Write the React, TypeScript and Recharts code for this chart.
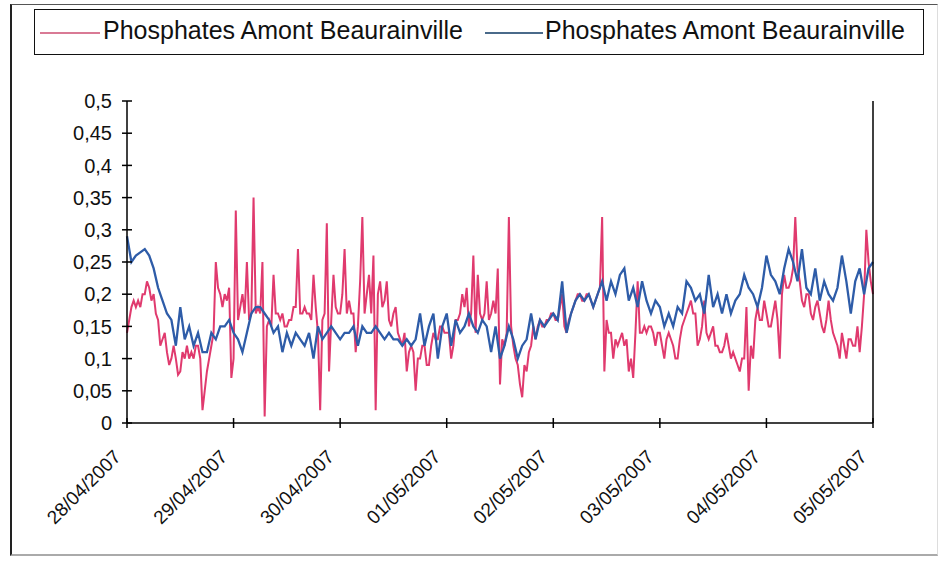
import React from "react";
import { LineChart, Line, XAxis, YAxis } from "recharts";

// Phosphate readings, pink series sampled every half hour from 28/04/2007 00:00
const pinkValues: number[] = [
  // 28/04
  0.14, 0.16, 0.18, 0.19, 0.18, 0.19, 0.18, 0.2, 0.2, 0.22, 0.21, 0.19,
  0.2, 0.17, 0.16, 0.12, 0.13, 0.14, 0.11, 0.09, 0.1, 0.12, 0.1, 0.075,
  0.08, 0.11, 0.1, 0.12, 0.1, 0.11, 0.1, 0.12, 0.12, 0.1, 0.02, 0.05,
  0.08, 0.1, 0.12, 0.14, 0.25, 0.21, 0.2, 0.18, 0.2, 0.19, 0.21, 0.07,
  // 29/04
  0.1, 0.33, 0.16, 0.18, 0.2, 0.17, 0.25, 0.16, 0.17, 0.35, 0.17, 0.18,
  0.17, 0.25, 0.01, 0.15, 0.16, 0.15, 0.23, 0.17, 0.17, 0.16, 0.17, 0.15,
  0.15, 0.16, 0.16, 0.18, 0.18, 0.27, 0.17, 0.17, 0.18, 0.17, 0.17, 0.16,
  0.23, 0.18, 0.14, 0.02, 0.16, 0.17, 0.31, 0.08, 0.16, 0.23, 0.18, 0.17,
  // 30/04
  0.17, 0.2, 0.27, 0.17, 0.19, 0.17, 0.17, 0.11, 0.15, 0.22, 0.32, 0.17,
  0.2, 0.23, 0.17, 0.26, 0.02, 0.2, 0.22, 0.18, 0.19, 0.22, 0.16, 0.15,
  0.17, 0.18, 0.14, 0.13, 0.12, 0.14, 0.08, 0.11, 0.12, 0.11, 0.05, 0.1,
  0.1, 0.12, 0.12, 0.09, 0.09, 0.12, 0.14, 0.13, 0.13, 0.15, 0.15, 0.14,
  // 01/05
  0.14, 0.14, 0.1, 0.12, 0.16, 0.16, 0.17, 0.2, 0.18, 0.21, 0.15, 0.17,
  0.26, 0.14, 0.23, 0.17, 0.16, 0.17, 0.22, 0.16, 0.17, 0.19, 0.17, 0.24,
  0.06, 0.13, 0.12, 0.14, 0.32, 0.15, 0.12, 0.1, 0.09, 0.06, 0.04, 0.09,
  0.08, 0.11, 0.12, 0.15, 0.13, 0.15, 0.16, 0.15, 0.15, 0.16, 0.16, 0.17,
  // 02/05
  0.17, 0.16, 0.16, 0.18, 0.2, 0.15, 0.14, 0.16, 0.17, 0.18, 0.19, 0.2,
  0.2, 0.19, 0.19, 0.2, 0.2, 0.19, 0.18, 0.19, 0.2, 0.21, 0.32, 0.08,
  0.16, 0.14, 0.14, 0.1, 0.13, 0.12, 0.13, 0.14, 0.12, 0.13, 0.08, 0.1,
  0.07, 0.14, 0.22, 0.14, 0.14, 0.15, 0.14, 0.15, 0.15, 0.14, 0.12, 0.14,
  // 03/05
  0.14, 0.12, 0.1, 0.13, 0.14, 0.13, 0.12, 0.1, 0.1, 0.13, 0.15, 0.16,
  0.17, 0.18, 0.19, 0.17, 0.17, 0.12, 0.13, 0.15, 0.19, 0.14, 0.13, 0.14,
  0.15, 0.12, 0.12, 0.11, 0.11, 0.12, 0.14, 0.12, 0.1, 0.11, 0.1, 0.09,
  0.08, 0.1, 0.1, 0.18, 0.05, 0.12, 0.1, 0.16, 0.18, 0.16, 0.16, 0.19,
  // 04/05
  0.17, 0.15, 0.15, 0.17, 0.19, 0.16, 0.1, 0.2, 0.23, 0.21, 0.21, 0.22,
  0.24, 0.32, 0.24, 0.22, 0.19, 0.18, 0.2, 0.2, 0.17, 0.16, 0.18, 0.19,
  0.17, 0.15, 0.14, 0.16, 0.19, 0.16, 0.14, 0.13, 0.12, 0.1, 0.14, 0.12,
  0.1, 0.13, 0.13, 0.12, 0.12, 0.15, 0.11, 0.15, 0.2, 0.3, 0.25, 0.22,
  // 05/05
  0.2,
];

// Blue series, hourly readings from 28/04/2007 00:00
const blueValues: number[] = [
  0.29, 0.25, 0.26, 0.265, 0.27, 0.26, 0.24, 0.21, 0.19, 0.17, 0.16, 0.12,
  0.18, 0.13, 0.15, 0.12, 0.14, 0.11, 0.11, 0.14, 0.13, 0.15, 0.15, 0.16,
  0.14, 0.13, 0.11, 0.14, 0.17, 0.18, 0.18, 0.17, 0.16, 0.14, 0.15, 0.11,
  0.14, 0.12, 0.14, 0.13, 0.12, 0.14, 0.1, 0.15, 0.13, 0.14, 0.15, 0.14,
  0.13, 0.14, 0.14, 0.15, 0.12, 0.15, 0.14, 0.14, 0.15, 0.14, 0.13, 0.14,
  0.13, 0.13, 0.12, 0.13, 0.12, 0.13, 0.17, 0.12, 0.15, 0.17, 0.1, 0.15,
  0.17, 0.12, 0.16, 0.14, 0.15, 0.17, 0.15, 0.14, 0.16, 0.15, 0.11, 0.15,
  0.1, 0.12, 0.15, 0.13, 0.1, 0.12, 0.13, 0.17, 0.13, 0.16, 0.15, 0.16,
  0.17, 0.16, 0.22, 0.14, 0.17, 0.19, 0.2, 0.19, 0.2, 0.18, 0.2, 0.22,
  0.19, 0.22, 0.2, 0.23, 0.24, 0.19, 0.21, 0.18, 0.22, 0.19, 0.17, 0.19,
  0.18, 0.15, 0.17, 0.15, 0.18, 0.17, 0.22, 0.21, 0.19, 0.2, 0.17, 0.23,
  0.18, 0.2, 0.17, 0.2, 0.17, 0.19, 0.2, 0.23, 0.21, 0.2, 0.18, 0.21,
  0.26, 0.23, 0.22, 0.2, 0.24, 0.27, 0.25, 0.22, 0.27, 0.21, 0.2, 0.24,
  0.19, 0.22, 0.2, 0.19, 0.21, 0.26, 0.22, 0.17, 0.22, 0.24, 0.2, 0.24,
  0.25,
];

const dayLabels: string[] = [
  "28/04/2007",
  "29/04/2007",
  "30/04/2007",
  "01/05/2007",
  "02/05/2007",
  "03/05/2007",
  "04/05/2007",
  "05/05/2007",
];

const yTicks: number[] = [0, 0.05, 0.1, 0.15, 0.2, 0.25, 0.3, 0.35, 0.4, 0.45, 0.5];

const seriesName = "Phosphates Amont Beaurainville";

const PINK = "#e03a6e";
const BLUE = "#2e5ca8";
const FONT = "'Liberation Sans', Arial, sans-serif";
const TICK = 5;

// Half-hour time grid (hours since start); blue only exists on whole hours
const rows = pinkValues.map((p, k) => ({
  t: k / 2,
  pink: p,
  blue: k % 2 === 0 ? blueValues[k / 2] : null,
}));

const dayTicks = dayLabels.map((_, i) => i * 24);

const fmt = (v: number) => String(v).replace(".", ",");

// Left axis: the library draws the outer half of each tick, this draws the inner half
const LeftTick = (props: any) => {
  const { x, y, payload } = props;
  const ax = x + TICK;
  return (
    <g>
      <rect x={ax} y={y - 0.75} width={TICK} height={1.5} fill="#000" />
      <text
        x={ax - 15}
        y={y}
        dy="0.36em"
        textAnchor="end"
        fontFamily={FONT}
        fontSize={20}
        fill="#111"
      >
        {fmt(payload.value)}
      </text>
    </g>
  );
};

const RightTick = (props: any) => {
  const { x, y, payload } = props;
  const ax = x - TICK;
  return (
    <g>
      <rect x={ax - TICK} y={y - 0.75} width={TICK} height={1.5} fill="#000" />
      <text
        x={ax + 16}
        y={y}
        dy="0.36em"
        textAnchor="start"
        fontFamily={FONT}
        fontSize={20}
        fill="#111"
      >
        {fmt(payload.value)}
      </text>
    </g>
  );
};

const DateTick = (props: any) => {
  const { x, y, payload } = props;
  const ay = y - TICK;
  const label = dayLabels[Math.round(payload.value / 24)] ?? "";
  const tx = x - 5;
  const ty = ay + 35;
  return (
    <g>
      <rect x={x - 0.75} y={ay - TICK} width={1.5} height={TICK} fill="#000" />
      <text
        x={tx}
        y={ty}
        textAnchor="end"
        transform={`rotate(-45, ${tx}, ${ty})`}
        fontFamily={FONT}
        fontSize={19}
        fill="#111"
      >
        {label}
      </text>
    </g>
  );
};

const LegendBox = () => (
  <div
    style={{
      position: "absolute",
      left: 34,
      top: 9,
      width: 890,
      height: 46,
      border: "1.5px solid #111",
      boxSizing: "border-box",
      background: "#fff",
      fontFamily: FONT,
      fontSize: 25,
      color: "#111",
    }}
  >
    <svg style={{ position: "absolute", left: 5, top: 21 }} width={60} height={4}>
      <line x1={0} x2={60} y1={2} y2={2} stroke="#d97a95" strokeWidth={2} />
    </svg>
    <span style={{ position: "absolute", left: 68, top: 6, whiteSpace: "nowrap", lineHeight: 1.15 }}>
      {seriesName}
    </span>
    <svg style={{ position: "absolute", left: 450, top: 21 }} width={58} height={4}>
      <line x1={0} x2={58} y1={2} y2={2} stroke="#4a6a8a" strokeWidth={2} />
    </svg>
    <span style={{ position: "absolute", left: 510, top: 6, whiteSpace: "nowrap", lineHeight: 1.15 }}>
      {seriesName}
    </span>
  </div>
);

const axisLine = { stroke: "#000", strokeWidth: 1.5 };
const tickLine = { stroke: "#000", strokeWidth: 1.5 };

export default function App() {
  return (
    <div
      style={{
        position: "absolute",
        left: 0,
        top: 0,
        width: 943,
        height: 562,
        background: "#fff",
        overflow: "hidden",
      }}
    >
      <div
        style={{
          position: "absolute",
          left: 10,
          top: 4,
          width: 928,
          height: 552,
          borderLeft: "2px solid #222",
          borderTop: "1px solid #555",
          borderBottom: "2px solid #aaa",
          borderRight: "1px solid #ddd",
          boxSizing: "border-box",
        }}
      />
      <div style={{ position: "absolute", left: 0, top: 0 }}>
        <LineChart
          width={943}
          height={562}
          data={rows}
          margin={{ top: 101, right: 0, bottom: 0, left: 0 }}
        >
          <XAxis
            dataKey="t"
            type="number"
            domain={[0, 168]}
            ticks={dayTicks}
            interval={0}
            height={139}
            tickSize={TICK}
            tickMargin={0}
            axisLine={axisLine}
            tickLine={tickLine}
            tick={<DateTick />}
          />
          <YAxis
            yAxisId="l"
            orientation="left"
            width={127}
            domain={[0, 0.5]}
            ticks={yTicks}
            interval={0}
            tickSize={TICK}
            tickMargin={0}
            axisLine={axisLine}
            tickLine={tickLine}
            tick={<LeftTick />}
          />
          <YAxis
            yAxisId="r"
            orientation="right"
            width={70}
            domain={[0, 0.5]}
            ticks={yTicks}
            interval={0}
            tickSize={TICK}
            tickMargin={0}
            axisLine={axisLine}
            tickLine={tickLine}
            tick={<RightTick />}
          />
          <Line
            yAxisId="l"
            type="linear"
            dataKey="pink"
            stroke={PINK}
            strokeWidth={2}
            dot={false}
            isAnimationActive={false}
          />
          <Line
            yAxisId="l"
            type="linear"
            dataKey="blue"
            stroke={BLUE}
            strokeWidth={2.3}
            dot={false}
            connectNulls
            isAnimationActive={false}
          />
        </LineChart>
      </div>
      <LegendBox />
    </div>
  );
}
